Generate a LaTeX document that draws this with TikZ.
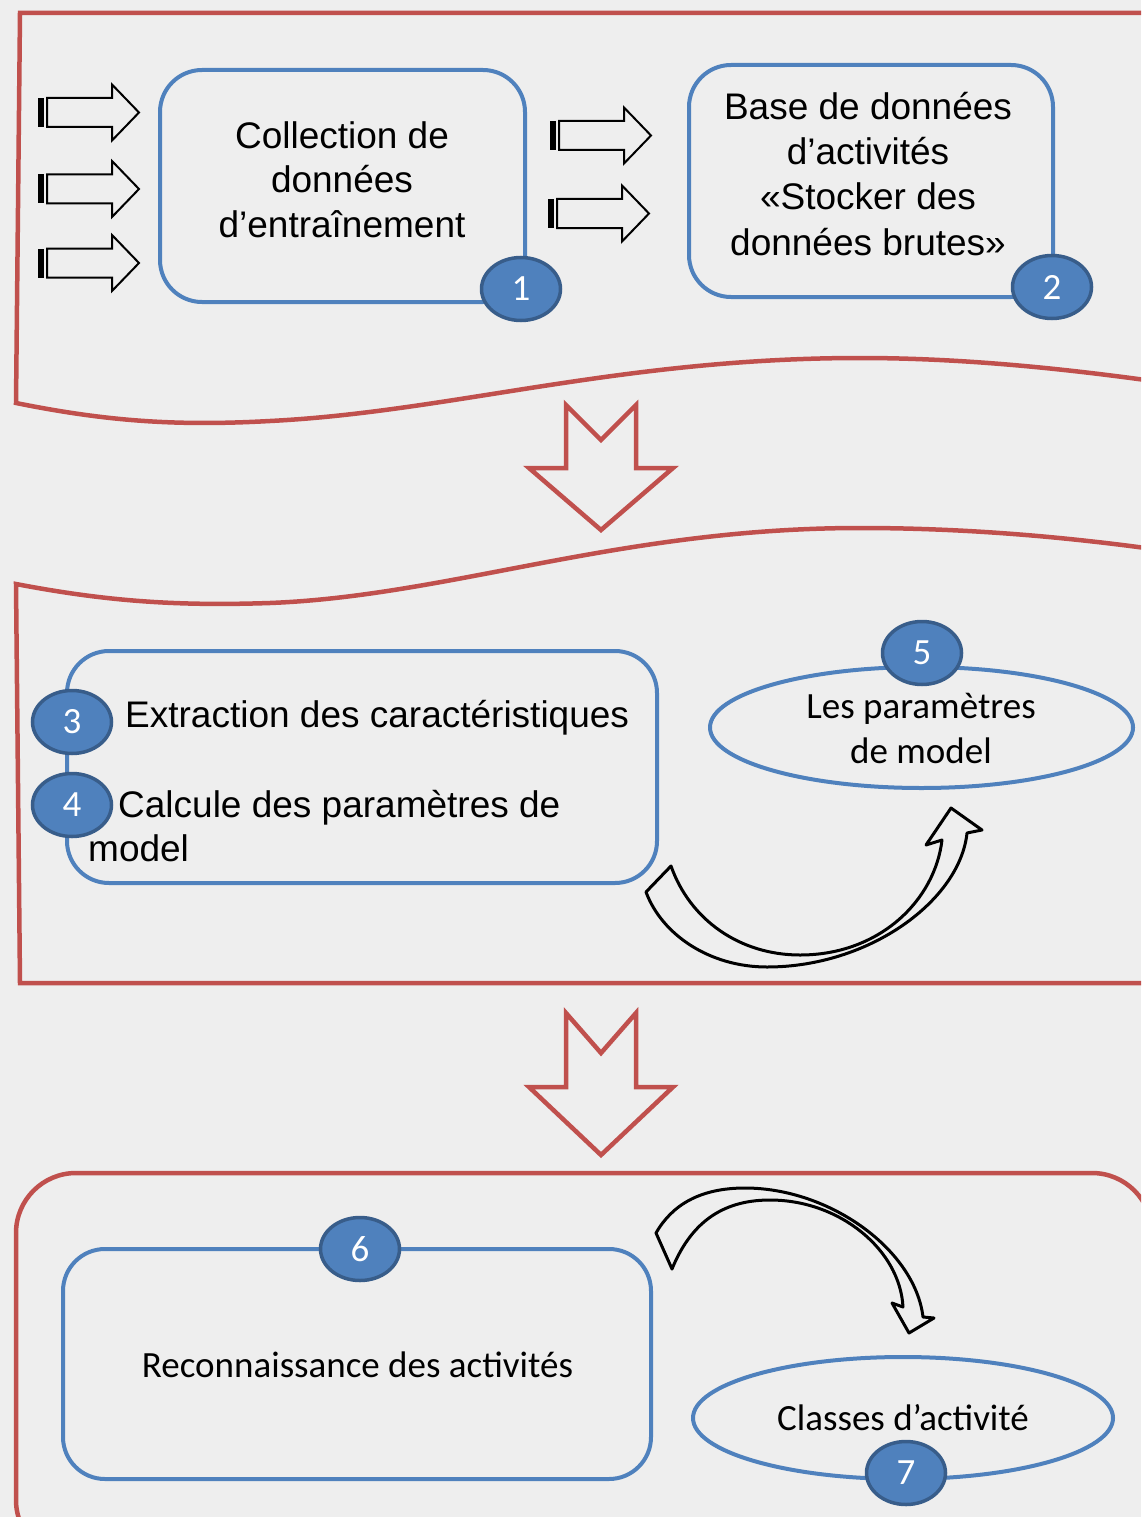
\documentclass[tikz,border=0pt]{standalone}
\usepackage{fontspec}
\setmainfont{Liberation Sans}
\newfontfamily\calib{Carlito}
\usetikzlibrary{shapes.geometric}
\definecolor{bgc}{HTML}{EEEEEE}
\definecolor{pred}{HTML}{C0504D}
\definecolor{pblue}{HTML}{4F81BD}
\definecolor{pdark}{HTML}{385D8A}
\newcommand\sizeA{\fontsize{37}{44.5}\selectfont}
\tikzset{
  banner/.style={draw=pred, line width=4.5},
  bigarrow/.style={draw=pred, line width=4.5, line join=miter},
  stepbox/.style={draw=pblue, line width=4, rounded corners=42, inner sep=0},
  oval/.style={ellipse, draw=pblue, line width=4, inner sep=0},
  num/.style={ellipse, minimum width=79, minimum height=63, fill=pblue, draw=pdark,
              line width=3.5, text=white, font=\calib\sizeA, inner sep=0},
  arialtxt/.style={font=\sizeA, inner sep=0},
  calitxt/.style={font=\calib\sizeA, inner sep=0},
  curvy/.style={draw=black, line width=3, line join=round},
  stripearrow/.pic={
    \fill[black] (0,-14.5) rectangle (6,14.5);
    \draw[black, line width=2, line join=miter] (9,-14.5) -- (74,-14.5) -- (74,-28) -- (101,0)
          -- (74,28) -- (74,14.5) -- (9,14.5) -- cycle;
  }
}
\begin{document}
\begin{tikzpicture}[x=1pt,y=-1pt]
\useasboundingbox (0,0) rectangle (1141,1517);
\fill[bgc] (0,0) rectangle (1141,1517);

\begin{scope}
\clip (0,0) rectangle (1141,1517);
% banners
\draw[banner] (1160,13) -- (20,13) -- (16,403)
   .. controls (110,422) and (180,426) .. (270,421)
   .. controls (450,412) and (620,358) .. (860,358)
   .. controls (960,358) and (1060,368) .. (1160,382);
\draw[banner] (1160,983) -- (20,983) -- (16,584)
   .. controls (110,602) and (180,606) .. (270,603)
   .. controls (450,596) and (620,528) .. (860,528)
   .. controls (960,528) and (1060,536) .. (1160,550);
\draw[banner, rounded corners=60] (16,1173) rectangle (1152,1560);
\end{scope}

% big down arrows
\draw[bigarrow] (566,405) -- (601,440) -- (636,405) -- (636,468) -- (673,468)
   -- (601,530) -- (529,468) -- (566,468) -- cycle;
\draw[bigarrow] (566,1013) -- (601,1053) -- (636,1013) -- (636,1087) -- (673,1087)
   -- (601,1155) -- (529,1087) -- (566,1087) -- cycle;

% striped arrows
\pic at (38,112.5) {stripearrow};
\pic at (38,189) {stripearrow};
\pic at (38,263) {stripearrow};
\pic at (550,135.5) {stripearrow};
\pic at (548,213.5) {stripearrow};

% boxes
\node[stepbox, minimum width=365, minimum height=232] (b1) at (342.5,186) {};
\node[stepbox, minimum width=364, minimum height=232] (b2) at (871,181) {};
\node[stepbox, minimum width=590, minimum height=232] (b34) at (362,767) {};
\node[stepbox, minimum width=588, minimum height=230] (b6) at (357,1364) {};
\node[oval, minimum width=423, minimum height=121] (e5) at (921.5,727.5) {};
\node[oval, minimum width=420, minimum height=122] (e7) at (903,1418) {};

% numbered circles
\node[num] (n1) at (521,289) {1};
\node[num] (n2) at (1052,287) {2};
\node[num] (n3) at (72,722) {3};
\node[num] (n4) at (72,805) {4};
\node[num] (n5) at (922,653) {5};
\node[num] (n6) at (360,1249) {6};
\node[num] (n7) at (906,1473) {7};

% texts
\node[arialtxt, anchor=base] (t1a) at (342,148.3) {Collection de};
\node[arialtxt, anchor=base] (t1b) at (342,192.7) {données};
\node[arialtxt, anchor=base] (t1c) at (342,237.7) {d’entraînement};
\node[arialtxt, anchor=base] (t2a) at (868,120) {Base de données};
\node[arialtxt, anchor=base] (t2b) at (868,165) {d’activités};
\node[arialtxt, anchor=base] (t2c) at (868,210) {«Stocker des};
\node[arialtxt, anchor=base] (t2d) at (868,255) {données brutes»};
\node[arialtxt, anchor=base west] (t3) at (125,727) {Extraction des caractéristiques};
\node[arialtxt, anchor=base west] (t4a) at (118,817) {Calcule des paramètres de};
\node[arialtxt, anchor=base west] (t4b) at (88,861) {model};
\node[calitxt, anchor=base] (t5a) at (921,718) {Les paramètres};
\node[calitxt, anchor=base] (t5b) at (921,763) {de model};
\node[calitxt, anchor=base] (t6) at (357.5,1377) {Reconnaissance des activités};
\node[calitxt, anchor=base] (t7) at (903,1430) {Classes d’activité};

% curved arrows
\draw[curvy] (646,892) -- (671,866)
   .. controls (690,920) and (740,955) .. (800,955)
   .. controls (880,955) and (935,900) .. (942,840)
   -- (926,845) -- (951,808) -- (982,830) -- (967,833)
   .. controls (960,900) and (870,967) .. (767,967)
   .. controls (710,967) and (662,935) .. (646,892) -- cycle;
\draw[curvy] (656,1233) -- (672,1269)
   .. controls (690,1225) and (720,1200) .. (770,1200)
   .. controls (840,1200) and (900,1250) .. (903,1307)
   -- (892,1303) -- (909,1333) -- (934,1318) -- (923,1317)
   .. controls (915,1250) and (830,1188) .. (745,1188)
   .. controls (700,1188) and (672,1205) .. (656,1233) -- cycle;
\end{tikzpicture}
\end{document}
